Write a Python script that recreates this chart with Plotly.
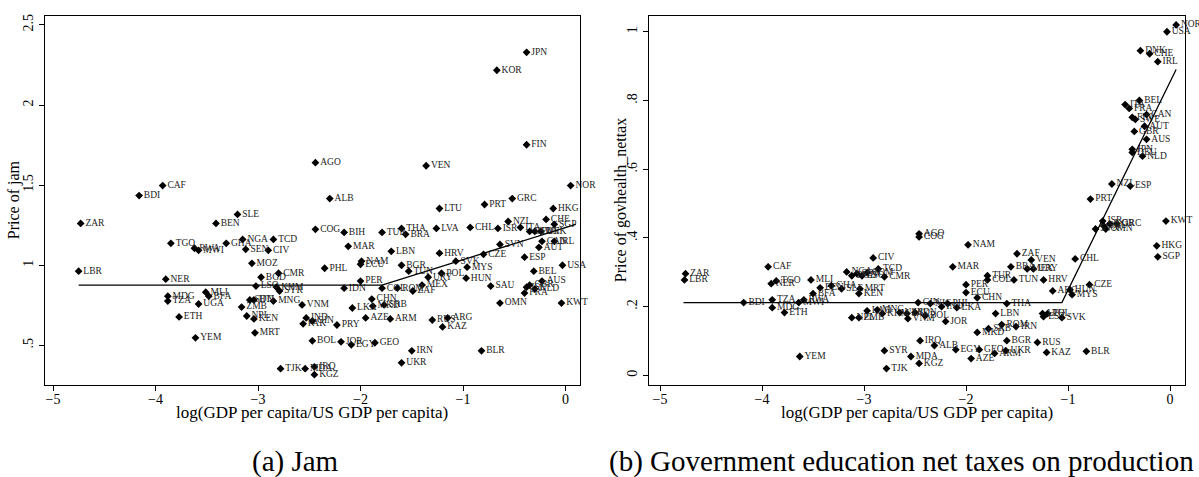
import plotly.graph_objects as go

# ---------------- Panel (a): Jam ----------------
countries_a = [
    "CAF", "BDI", "SLE", "ZAR", "BEN", "NGA", "TCD", "TGO", "GHA", "RWA",
    "MWI", "SEN", "CIV", "MOZ", "LBR", "CMR", "BGD", "NER", "LSO", "KHM",
    "SYR", "MLI", "BFA", "MDG", "TZA", "UGA", "SDN", "HTI", "MNG", "ZMB",
    "ETH", "NPL", "KEN", "MRT", "YEM", "TJK", "MDA", "IRQ", "KGZ", "VNM",
    "IDN", "PHL", "NAM", "ECU", "PER", "LKA", "CHN", "MKD", "SRB", "IND",
    "PAK", "GIN", "PRY", "AZE", "BOL", "JOR", "EGY", "GEO", "ALB", "COG",
    "BIH", "TUR", "THA", "BRA", "LTU", "PRT", "GRC", "HKG", "LVA", "CHL",
    "ISR", "NZL", "ITA", "DEU", "SWE", "DNK", "CHE", "SGP", "MAR", "LBN",
    "SVN", "CAN", "IRL", "AUT", "HRV", "CZE", "ESP", "BGR", "SVK", "MYS",
    "USA", "TUN", "POL", "URY", "HUN", "BEL", "AUS", "COL", "ROM", "ZAF",
    "MEX", "SAU", "FRA", "ISL", "GBR", "NLD", "OMN", "KWT", "ARM", "RUS",
    "ARG", "KAZ", "IRN", "BLR", "UKR", "JPN", "KOR", "FIN", "AGO", "VEN",
    "NOR",
]
gdp_a = [
    -3.93, -4.16, -3.20, -4.73, -3.41, -3.15, -2.85, -3.85, -3.31, -3.62,
    -3.58, -3.12, -2.90, -3.06, -4.75, -2.80, -2.97, -3.90, -3.02, -2.82,
    -2.79, -3.51, -3.48, -3.88, -3.88, -3.58, -3.08, -3.04, -2.85, -3.16,
    -3.77, -3.11, -3.04, -3.03, -3.61, -2.78, -2.54, -2.45, -2.45, -2.57,
    -2.16, -2.35, -1.99, -2.00, -2.00, -2.08, -1.89, -1.88, -1.77, -2.53,
    -2.56, -2.47, -2.23, -1.95, -2.47, -2.19, -2.09, -1.86, -2.30, -2.44,
    -2.16, -1.79, -1.60, -1.56, -1.23, -0.79, -0.52, -0.12, -1.26, -0.93,
    -0.66, -0.56, -0.44, -0.35, -0.30, -0.24, -0.19, -0.11, -2.12, -1.70,
    -0.64, -0.23, -0.11, -0.26, -1.23, -0.80, -0.40, -1.60, -1.07, -0.96,
    -0.03, -1.53, -1.21, -1.34, -0.97, -0.31, -0.23, -1.79, -1.64, -1.49,
    -1.40, -0.73, -0.40, -0.38, -0.35, -0.30, -0.64, -0.04, -1.71, -1.30,
    -1.15, -1.20, -1.50, -0.82, -1.60, -0.38, -0.67, -0.38, -2.44, -1.36,
    0.05,
]
price_a = [
    1.497, 1.435, 1.317, 1.261, 1.261, 1.161, 1.161, 1.137, 1.137, 1.106,
    1.093, 1.099, 1.093, 1.012, 0.963, 0.950, 0.925, 0.913, 0.870, 0.863,
    0.839, 0.832, 0.807, 0.807, 0.776, 0.758, 0.783, 0.783, 0.776, 0.739,
    0.677, 0.683, 0.665, 0.578, 0.547, 0.354, 0.354, 0.366, 0.317, 0.752,
    0.857, 0.981, 1.025, 1.006, 0.901, 0.733, 0.789, 0.745, 0.752, 0.671,
    0.634, 0.652, 0.627, 0.671, 0.528, 0.522, 0.503, 0.516, 1.416, 1.224,
    1.205, 1.205, 1.230, 1.193, 1.354, 1.379, 1.416, 1.354, 1.230, 1.236,
    1.230, 1.273, 1.236, 1.211, 1.211, 1.211, 1.286, 1.255, 1.118, 1.087,
    1.130, 1.149, 1.149, 1.112, 1.075, 1.068, 1.050, 1.000, 1.025, 0.988,
    1.000, 0.963, 0.950, 0.925, 0.919, 0.963, 0.901, 0.857, 0.857, 0.839,
    0.876, 0.870, 0.826, 0.863, 0.876, 0.851, 0.764, 0.764, 0.665, 0.658,
    0.671, 0.615, 0.466, 0.466, 0.391, 2.329, 2.217, 1.752, 1.640, 1.621,
    1.497,
]
fit_a_x = [-4.75, -1.79, 0.10]
fit_a_y = [0.876, 0.876, 1.255]

# ---------------- Panel (b): Government education net taxes ----------------
countries_b = [
    "ZAR", "LBR", "CAF", "TGO", "NER", "MLI", "CIV", "TCD", "NGA", "BGD",
    "SDN", "LSO", "COM", "CMR", "GHA", "BEN", "SLE", "MRT", "KEN", "BFA",
    "RWA", "MWI", "BDI", "TZA", "MDG", "ETH", "YEM", "SYR", "TJK", "NPL",
    "ZMB", "LAO", "MNG", "KHM", "GIN", "NIC", "IND", "PHL", "LKA", "UZB",
    "PAK", "VNM", "IDN", "BOL", "JOR", "IRQ", "ALB", "MDA", "KGZ", "EGY",
    "GEO", "AZE", "MAR", "PER", "ECU", "PRT", "ISR", "SVN", "SAU", "OMN",
    "KOR", "GRC", "KWT", "HKG", "SGP", "AGO", "COG", "NAM", "ZAF", "VEN",
    "BRA", "MEX", "URY", "CHL", "TUR", "COL", "TUN", "HRV", "CZE", "ARG",
    "HUN", "MYS", "CHN", "THA", "LBN", "LTU", "EST", "POL", "SVK", "MKD",
    "SRB", "ROM", "IRN", "BGR", "RUS", "UKR", "ARM", "KAZ", "BLR", "NOR",
    "USA", "DNK", "CHE", "IRL", "BEL", "ITA", "FRA", "CAN", "FIN", "SWE",
    "AUT", "GBR", "AUS", "JPN", "DEU", "NLD", "NZL", "ESP",
]
gdp_b = [
    -4.75, -4.76, -3.94, -3.86, -3.91, -3.52, -2.91, -2.86, -3.17, -3.12,
    -3.07, -3.02, -2.97, -2.80, -3.32, -3.43, -3.22, -3.04, -3.05, -3.50,
    -3.59, -3.64, -4.18, -3.90, -3.90, -3.78, -3.63, -2.80, -2.78, -3.12,
    -3.05, -2.97, -2.87, -2.82, -2.47, -2.35, -2.24, -2.18, -2.09, -2.65,
    -2.58, -2.57, -2.50, -2.40, -2.20, -2.45, -2.31, -2.54, -2.46, -2.10,
    -1.87, -1.95, -2.13, -2.00, -2.00, -0.78, -0.66, -0.73, -0.65, -0.63,
    -0.59, -0.52, -0.04, -0.13, -0.12, -2.46, -2.46, -1.98, -1.50, -1.36,
    -1.56, -1.40, -1.34, -0.93, -1.79, -1.79, -1.53, -1.24, -0.79, -1.15,
    -0.98, -0.96, -1.89, -1.60, -1.71, -1.25, -1.24, -1.20, -1.06, -1.89,
    -1.78, -1.65, -1.51, -1.60, -1.30, -1.61, -1.72, -1.21, -0.82, 0.06,
    -0.03, -0.29, -0.20, -0.12, -0.30, -0.44, -0.40, -0.23, -0.37, -0.34,
    -0.25, -0.35, -0.23, -0.37, -0.37, -0.27, -0.57, -0.39,
]
price_b = [
    0.296, 0.278, 0.316, 0.275, 0.267, 0.278, 0.342, 0.310, 0.301, 0.290,
    0.296, 0.290, 0.299, 0.287, 0.261, 0.255, 0.252, 0.252, 0.238, 0.238,
    0.220, 0.212, 0.212, 0.220, 0.197, 0.183, 0.055, 0.072, 0.020, 0.168,
    0.168, 0.188, 0.191, 0.180, 0.212, 0.209, 0.200, 0.209, 0.197, 0.183,
    0.180, 0.165, 0.183, 0.174, 0.157, 0.101, 0.087, 0.055, 0.035, 0.075,
    0.075, 0.049, 0.316, 0.264, 0.241, 0.513, 0.449, 0.426, 0.435, 0.426,
    0.441, 0.441, 0.449, 0.377, 0.345, 0.412, 0.403, 0.380, 0.354, 0.336,
    0.316, 0.310, 0.310, 0.339, 0.290, 0.278, 0.278, 0.278, 0.264, 0.246,
    0.249, 0.235, 0.226, 0.209, 0.180, 0.180, 0.171, 0.180, 0.168, 0.125,
    0.136, 0.148, 0.142, 0.101, 0.096, 0.072, 0.064, 0.067, 0.070, 1.020,
    1.000, 0.945, 0.936, 0.913, 0.800, 0.788, 0.777, 0.759, 0.751, 0.745,
    0.725, 0.710, 0.687, 0.658, 0.649, 0.638, 0.557, 0.551,
]
fit_b_x = [-4.77, -1.06, 0.06]
fit_b_y = [0.212, 0.212, 0.890]

# ---------------- Tick labels and titles ----------------
x_tickvals = [-5, -4, -3, -2, -1, 0]
x_ticktext = ["\u22125", "\u22124", "\u22123", "\u22122", "\u22121", "0"]
ya_tickvals = [0.5, 1.0, 1.5, 2.0, 2.5]
ya_ticktext = [".5", "1", "1.5", "2", "2.5"]
yb_tickvals = [0.0, 0.2, 0.4, 0.6, 0.8, 1.0]
yb_ticktext = ["0", ".2", ".4", ".6", ".8", "1"]
x_title = "log(GDP per capita/US GDP per capita)"
ya_title = "Price of jam"
yb_title = "Price of govhealth_nettax"
caption_a = "(a) Jam"
caption_b = "(b) Government education net taxes on production"

FONT = "Liberation Serif"
W, H = 1199, 477

fig = go.Figure()

def add_panel(xs, ys, labels, fx, fy, xa, ya):
    fig.add_trace(go.Scatter(
        x=xs, y=ys, text=labels, mode="markers+text",
        textposition="middle right",
        textfont=dict(family=FONT, size=9.5, color="#222222"),
        marker=dict(symbol="diamond", size=6, color="black"),
        xaxis=xa, yaxis=ya, showlegend=False, cliponaxis=False,
        hoverinfo="skip",
    ))
    fig.add_trace(go.Scatter(
        x=fx, y=fy, mode="lines",
        line=dict(color="black", width=1.3),
        xaxis=xa, yaxis=ya, showlegend=False, hoverinfo="skip",
    ))

add_panel(gdp_a, price_a, countries_a, fit_a_x, fit_a_y, "x", "y")
add_panel(gdp_b, price_b, countries_b, fit_b_x, fit_b_y, "x2", "y2")

def px_x(p):
    return p / W

def px_y(p):
    return 1 - p / H

axis_common = dict(
    showline=True, linecolor="black", linewidth=1, mirror=True,
    ticks="outside", ticklen=5, tickcolor="black", tickwidth=1,
    showgrid=False, zeroline=False,
    tickfont=dict(family=FONT, size=14, color="black"),
)

def ann(text, x, y, size, angle=0):
    return dict(text=text, x=px_x(x), y=px_y(y), xref="paper", yref="paper",
                showarrow=False, xanchor="center", yanchor="middle",
                textangle=angle,
                font=dict(family=FONT, size=size, color="black"))

fig.update_layout(
    width=W, height=H,
    margin=dict(l=0, r=0, t=0, b=0),
    paper_bgcolor="white", plot_bgcolor="white",
    font=dict(family=FONT, color="black"),
    xaxis=dict(domain=[px_x(45), px_x(580)], range=[-5.078, 0.141],
               tickvals=x_tickvals, ticktext=x_ticktext,
               ticklabelstandoff=-4, anchor="y", **axis_common),
    yaxis=dict(domain=[px_y(385), px_y(14)], range=[0.25, 2.556],
               tickvals=ya_tickvals, ticktext=ya_ticktext, tickangle=-90,
               anchor="x", **axis_common),
    xaxis2=dict(domain=[px_x(649), px_x(1185)], range=[-5.108, 0.147],
                tickvals=x_tickvals, ticktext=x_ticktext,
                ticklabelstandoff=-4, anchor="y2", **axis_common),
    yaxis2=dict(domain=[px_y(385), px_y(14)], range=[-0.029, 1.046],
                tickvals=yb_tickvals, ticktext=yb_ticktext, tickangle=-90,
                anchor="x2", **axis_common),
    annotations=[
        ann(x_title, 312, 412, 17),
        ann(x_title, 917, 412, 17),
        ann(ya_title, 14, 199, 16, -90),
        ann(yb_title, 621, 199, 16, -90),
        ann(caption_a, 295, 461, 29),
        ann(caption_b, 901, 461, 29),
    ],
)

fig.write_html(
    "out.html",
    config={"displayModeBar": False},
    post_script="document.body.style.margin='0';document.body.style.overflow='hidden';",
)
